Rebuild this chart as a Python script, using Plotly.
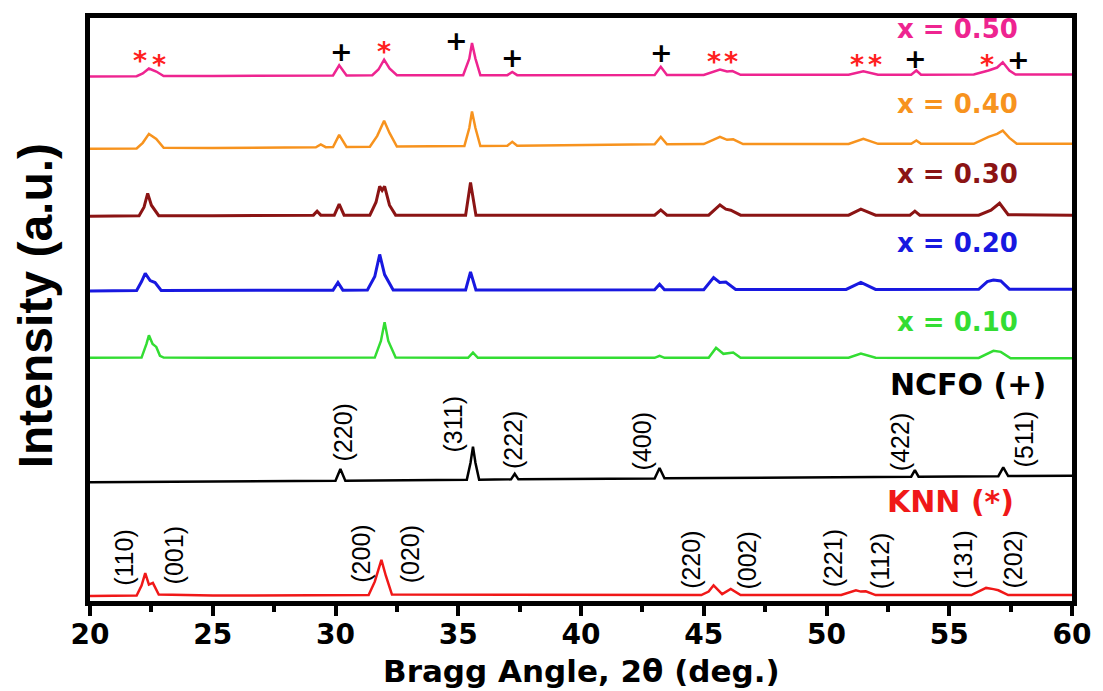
import plotly.graph_objects as go

# ---------------- data ----------------
# stacked intensity in a.u. (each pattern already shifted by its offset)
knn_x = [20, 21.9, 22.1, 22.25, 22.4, 22.56, 22.8, 25, 31.35, 31.6, 31.87, 32.05, 32.3,
         44.9, 45.2, 45.4, 45.75, 46.1, 46.5, 50.6, 51.2, 51.4, 51.6, 52.0,
         55.9, 56.5, 56.8, 57.0, 57.4, 60]
knn_y = [7.5, 8, 18, 30.7, 19, 20.7, 9, 8, 8.5, 22, 44, 28, 9,
         8.5, 12, 18.3, 9.5, 14.7, 8.5, 8.5, 13.3, 12, 12.3, 8.5,
         8.5, 15.7, 14.5, 13.3, 8.5, 8.5]

ncfo_x = [20, 25, 30.0, 30.2, 30.4, 35.35, 35.5, 35.6, 35.7, 35.85, 37.15, 37.3, 37.45,
          43.0, 43.2, 43.4, 53.45, 53.6, 53.75, 57.0, 57.2, 57.4, 60]
ncfo_y = [122.3, 123.2, 124, 135.7, 124, 125, 142, 158.3, 142, 125, 125.3, 131, 125.3,
          126.2, 136.7, 126.3, 128, 134.7, 128, 128.5, 137.3, 128.6, 129]

x10_x = [20, 22.1, 22.3, 22.4, 22.55, 22.7, 22.85, 23.0, 25, 29.5, 31.6, 31.85, 32.0, 32.15, 32.45,
         35.4, 35.6, 35.8, 43.0, 43.2, 43.4, 45.2, 45.5, 45.8, 46.2, 46.5,
         50.9, 51.4, 52.0, 56.2, 56.8, 57.1, 57.5, 60]
x10_y = [248, 248.2, 262, 270.7, 262, 259, 250, 248.2, 248, 248, 248.2, 265, 284, 265, 248.2,
         248, 253.3, 248, 248, 250, 248, 248, 258, 252, 253.3, 248,
         248, 252.3, 248, 247.8, 255, 254, 247.5, 247.5]

x20_x = [20, 21.9, 22.1, 22.25, 22.45, 22.65, 22.9, 25, 29.9, 30.1, 30.3, 31.3, 31.6, 31.8, 32.0, 32.35,
         35.3, 35.5, 35.72, 43.0, 43.2, 43.4, 45.0, 45.4, 45.65, 45.9, 46.3,
         50.8, 51.4, 52.0, 56.2, 56.55, 56.8, 57.1, 57.45, 60]
x20_y = [315.5, 316, 325, 333.3, 326, 324, 316, 316, 316.3, 324, 316.3, 316.5, 330, 352.3, 332, 316.5,
         316.5, 334.7, 316.5, 316.7, 322.3, 316.7, 316.8, 329, 324, 324.5, 317,
         317, 324, 317, 317.2, 325, 326.5, 325.5, 317.3, 317.3]

x30_x = [20, 22.0, 22.2, 22.35, 22.5, 22.8, 25, 29.1, 29.25, 29.4, 29.95, 30.15, 30.35,
         31.4, 31.65, 31.8, 31.9, 32.0, 32.2, 32.45, 35.3, 35.5, 35.72, 43.0, 43.25, 43.5,
         45.2, 45.66, 45.9, 46.1, 46.5, 50.9, 51.4, 52.0, 53.4, 53.6, 53.8,
         56.2, 56.7, 57.05, 57.4, 60]
x30_y = [391, 391.5, 400, 414, 402, 391.5, 391.5, 392, 396, 392, 392, 403, 392,
         392, 405, 421, 417, 421, 402, 392, 392, 425, 392, 392, 397.3, 392,
         392, 402.3, 398, 397, 392, 392, 398, 392, 392, 396, 392,
         392, 397, 404, 392.5, 392]

x40_x = [20, 21.9, 22.15, 22.4, 22.7, 23.0, 25, 27, 29.2, 29.4, 29.6, 29.9, 30.15, 30.45,
         31.4, 31.7, 31.98, 32.2, 32.5, 35.25, 35.45, 35.56, 35.7, 35.9, 37.0, 37.2, 37.4,
         43.0, 43.25, 43.5, 45.0, 45.66, 45.95, 46.2, 46.6, 50.9, 51.5, 52.1,
         53.45, 53.66, 53.85, 56.0, 56.6, 56.95, 57.18, 57.45, 57.75, 60]
x40_y = [459, 459.3, 465, 474, 469, 460, 459.8, 460.2, 460.5, 463.3, 460.6, 460.7, 473, 460.8,
         461, 472, 487.3, 475, 461.2, 461.7, 480, 496.7, 480, 461.8, 462, 466, 462,
         463.5, 471, 463.6, 463.7, 471, 468, 468.5, 463.8, 463.9, 469, 464,
         464, 467.3, 464, 464, 471, 474, 477.3, 470, 464, 464]

x50_x = [20, 21.9, 22.15, 22.4, 22.7, 23.0, 25, 27, 29.3, 29.9, 30.15, 30.45,
         31.5, 31.75, 31.98, 32.2, 32.5, 35.2, 35.45, 35.56, 35.7, 35.9, 37.0, 37.2, 37.4,
         43.0, 43.25, 43.5, 45.0, 45.4, 45.66, 45.95, 46.17, 46.5, 50.9, 51.5, 52.1,
         53.45, 53.66, 53.85, 56.0, 56.6, 56.95, 57.18, 57.45, 57.7, 60]
x50_y = [532, 532.3, 535, 540, 537, 532.5, 532.5, 532.7, 533, 533, 543.3, 533,
         533.2, 539, 549, 540, 533.2, 533.2, 550, 565.7, 550, 533.3, 533.3, 536.5, 533.3,
         533.5, 541.7, 533.5, 533.5, 537, 539, 537, 537.5, 533.6, 533.7, 537.3, 533.8,
         533.8, 538, 533.8, 534, 538, 541, 546.3, 538, 534, 534]

series_names = ["KNN (*)", "NCFO (+)", "x = 0.10", "x = 0.20", "x = 0.30", "x = 0.40", "x = 0.50"]
series_x = [knn_x, ncfo_x, x10_x, x20_x, x30_x, x40_x, x50_x]
series_y = [knn_y, ncfo_y, x10_y, x20_y, x30_y, x40_y, x50_y]
series_colors = ["#F01818", "#000000", "#33DD33", "#1818E0", "#8B1414", "#F7931E", "#EE2490"]
series_widths = [2.5, 2.5, 2.5, 3, 3, 2.5, 2.5]
# label anchors (right edge 2θ, intensity)
label_x = [57.72, 59.02, 57.88, 57.88, 57.88, 57.88, 57.88]
label_y = [103, 221, 284, 364, 434, 504, 580]

# Miller indices
ncfo_hkl = ["(220)", "(311)", "(222)", "(400)", "(422)", "(511)"]
ncfo_hkl_x = [30.32, 34.8, 37.23, 42.5, 53.0, 58.06]
ncfo_hkl_y = [173, 181, 165, 164, 163, 166]
knn_hkl = ["(110)", "(001)", "(200)", "(020)", "(220)", "(002)", "(221)", "(112)", "(131)", "(202)"]
knn_hkl_x = [21.38, 23.4, 31.03, 33.05, 44.48, 46.75, 50.28, 52.19, 55.55, 57.58]
knn_hkl_y = [47, 49, 50, 50, 44, 43, 46, 43, 44, 44]

# phase markers on the x = 0.50 pattern
star_x = [22.04, 22.81, 31.98, 45.42, 46.11, 51.24, 51.99, 56.52]
star_y = [547.7, 544.3, 556.7, 546.7, 546.7, 544.3, 544.3, 544.3]
plus_x = [30.26, 34.93, 37.21, 43.26, 53.64, 57.81]
plus_y = [557.3, 568.7, 550.7, 556.3, 550, 548.7]

xticks = [20, 25, 30, 35, 40, 45, 50, 55, 60]

# ---------------- figure ----------------
fig = go.Figure()
for name, xs, ys, col, w in zip(series_names, series_x, series_y, series_colors, series_widths):
    fig.add_trace(go.Scatter(x=xs, y=ys, mode="lines", name=name,
                             line=dict(color=col, width=w), hoverinfo="skip"))

bold = dict(family="DejaVu Sans", weight="bold")
ann = []
for name, lx, ly, col in zip(series_names, label_x, label_y, series_colors):
    size = 30 if "(" in name else 26
    ann.append(dict(x=lx, y=ly, xref="x", yref="y", text=name, showarrow=False,
                    xanchor="right", yanchor="middle",
                    font=dict(size=size, color=col, **bold)))
for t, hx, hy in zip(ncfo_hkl + knn_hkl, ncfo_hkl_x + knn_hkl_x, ncfo_hkl_y + knn_hkl_y):
    ann.append(dict(x=hx, y=hy, xref="x", yref="y", text=t, showarrow=False, textangle=-90,
                    xanchor="center", yanchor="middle",
                    font=dict(size=25, color="black", family="Liberation Sans")))
for sx, sy in zip(star_x, star_y):
    ann.append(dict(x=sx, y=sy, xref="x", yref="y", text="*", showarrow=False,
                    xanchor="center", yanchor="middle",
                    font=dict(size=27, color="#FF2020", **bold)))
for px_, py_ in zip(plus_x, plus_y):
    ann.append(dict(x=px_, y=py_, xref="x", yref="y", text="+", showarrow=False,
                    xanchor="center", yanchor="middle",
                    font=dict(size=27, color="black", **bold)))
# axis titles
ann.append(dict(x=0.5, y=-0.1205, xref="paper", yref="paper", text="Bragg Angle, 2θ (deg.)",
                showarrow=False, xanchor="center", yanchor="middle",
                font=dict(size=31, color="black", **bold)))
ann.append(dict(x=-0.056, y=0.5055, xref="paper", yref="paper", text="Intensity (a.u.)",
                showarrow=False, textangle=-90, xanchor="center", yanchor="middle",
                font=dict(size=48, color="black", family="Liberation Sans", weight="bold")))

fig.update_layout(
    width=1095, height=683,
    margin=dict(l=82, r=31, t=5, b=89.5),
    paper_bgcolor="white", plot_bgcolor="white",
    showlegend=False,
    annotations=ann,
    xaxis=dict(range=[20, 60], tickvals=xticks, ticktext=[str(v) for v in xticks],
               ticks="outside", ticklen=10, tickwidth=4, tickcolor="black",
               ticklabelstandoff=-6,
               minor=dict(dtick=2.5, tick0=20, ticks="outside", ticklen=6, tickwidth=4,
                          tickcolor="black"),
               showline=True, linewidth=5, linecolor="black", mirror=True,
               showgrid=False, zeroline=False,
               tickfont=dict(size=28, color="black", **bold)),
    yaxis=dict(range=[2.5, 591], showticklabels=False, ticks="",
               showline=True, linewidth=5, linecolor="black", mirror=True,
               showgrid=False, zeroline=False),
)

fig.write_html("out.html")
